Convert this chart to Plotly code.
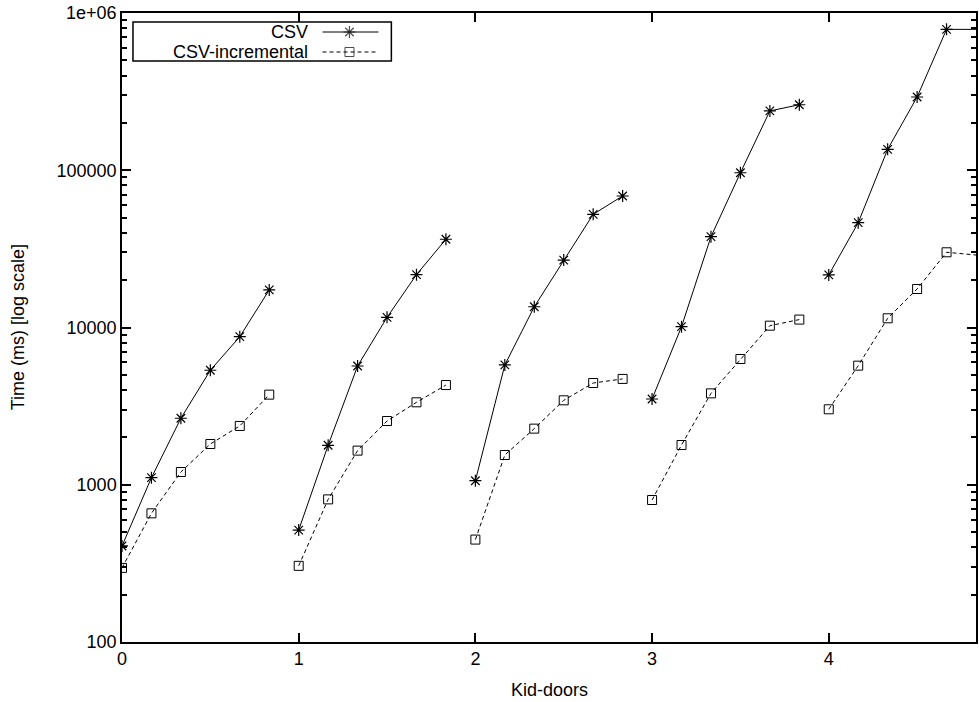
import plotly.graph_objects as go

# ---- data ----
kid_doors = [0, 1, 2, 3, 4]
sub_steps = [0, 1/6, 2/6, 3/6, 4/6, 5/6]
csv_ms = [
    [408, 1109, 2648, 5346, 8740, 17340],
    [515, 1782, 5690, 11600, 21680, 36400],
    [1061, 5780, 13550, 26850, 52450, 68600],
    [3510, 10120, 37800, 96400, 238300, 261000],
    [21600, 46400, 135900, 292300, 787000, 787000],
]
csv_incremental_ms = [
    [296, 658, 1205, 1816, 2366, 3741],
    [305, 807, 1648, 2543, 3344, 4305],
    [448, 1546, 2274, 3443, 4436, 4710],
    [800, 1790, 3812, 6305, 10270, 11230],
    [3018, 5720, 11440, 17570, 30080, 28900],
]
y_tickvals = [100, 1000, 10000, 100000, 1000000]
y_ticktext = ["100", "1000", "10000", "100000", "1e+06"]
y_minor_tickvals = [m * d for d in [100, 1000, 10000, 100000] for m in range(2, 10)]
series_names = ["CSV", "CSV-incremental"]
x_title = "Kid-doors"
y_title = "Time (ms) [log scale]"


def flatten(groups):
    xs, ys = [], []
    for k, vals in zip(kid_doors, groups):
        for s, v in zip(sub_steps, vals):
            xs.append(k + s)
            ys.append(v)
        xs.append(None)
        ys.append(None)
    return xs, ys


FONT = "Liberation Sans, Arial, Helvetica, sans-serif"
FS = 18
W, H = 979, 702
L, R, T, B = 122, 1, 13, 60
PW, PH = W - L - R, H - T - B
X_MAX = 4.8333
LOG_MIN, LOG_MAX = 2, 6


def paper_x(px):
    return (px - L) / PW


def paper_y(py):
    return 1 - (py - T) / PH


def data_x(px):
    return paper_x(px) * X_MAX


def data_y(py):
    return 10 ** (LOG_MIN + paper_y(py) * (LOG_MAX - LOG_MIN))


fig = go.Figure()

x1, y1 = flatten(csv_ms)
x2, y2 = flatten(csv_incremental_ms)

csv_style = dict(
    line=dict(color="black", width=1),
    marker_symbol="asterisk-open", marker_color="black",
    marker_line=dict(color="black", width=1.2),
)
inc_style = dict(
    line=dict(color="black", width=1, dash="4px,3px"),
    marker_symbol="square-open", marker_color="black",
    marker_line=dict(color="black", width=1),
)

fig.add_trace(go.Scatter(x=x1, y=y1, mode="lines+markers", name=series_names[0],
                         marker_size=10, connectgaps=False, showlegend=False,
                         **csv_style))
fig.add_trace(go.Scatter(x=x2, y=y2, mode="lines+markers", name=series_names[1],
                         marker_size=9, connectgaps=False, showlegend=False,
                         **inc_style))

# ---- gnuplot-style key: text right-aligned, sample to its right ----
key_rows = [32, 52]
key_text_right = 310
key_sample = (323, 350, 379)
key_box = (133, 392, 22, 61)
for name, yrow, st, msz in zip(series_names, key_rows, [csv_style, inc_style], [10, 9]):
    fig.add_trace(go.Scatter(
        x=[data_x(p) for p in key_sample], y=[data_y(yrow)] * 3,
        mode="lines+markers", marker_size=[0, msz, 0],
        showlegend=False, hoverinfo="skip", cliponaxis=False, **st,
    ))
    fig.add_annotation(
        x=paper_x(key_text_right), y=paper_y(yrow), xref="paper", yref="paper",
        text=name, showarrow=False, xanchor="right", yanchor="middle",
        font=dict(family=FONT, size=FS, color="black"),
    )
fig.add_shape(type="rect", xref="paper", yref="paper",
              x0=paper_x(key_box[0]), x1=paper_x(key_box[1]),
              y0=paper_y(key_box[2]), y1=paper_y(key_box[3]),
              line=dict(color="black", width=1.5), fillcolor="rgba(0,0,0,0)")

# axis titles as annotations
fig.add_annotation(x=0.5, y=paper_y(690), xref="paper", yref="paper", text=x_title,
                   showarrow=False, xanchor="center", yanchor="middle",
                   font=dict(family=FONT, size=FS, color="black"))
fig.add_annotation(x=paper_x(18), y=paper_y(327), xref="paper", yref="paper", text=y_title,
                   showarrow=False, xanchor="center", yanchor="middle", textangle=-90,
                   font=dict(family=FONT, size=FS, color="black"))

fig.update_layout(
    width=W, height=H,
    margin=dict(l=L, r=R, t=T, b=B),
    paper_bgcolor="white", plot_bgcolor="white",
    font=dict(family=FONT, size=FS, color="black"),
    showlegend=False,
    xaxis=dict(
        range=[0, X_MAX], tickvals=kid_doors, ticktext=[str(k) for k in kid_doors],
        ticks="inside", ticklen=9, tickcolor="black", tickwidth=1.5,
        showline=True, linecolor="black", linewidth=1.5, mirror="ticks",
        showgrid=False, zeroline=False,
        tickfont=dict(size=FS, color="black"),
    ),
    yaxis=dict(
        type="log", range=[LOG_MIN, LOG_MAX], tickvals=y_tickvals, ticktext=y_ticktext,
        ticksuffix="\u00a0\u00a0",
        ticks="inside", ticklen=9, tickcolor="black", tickwidth=1.5,
        minor=dict(tickmode="array", tickvals=y_minor_tickvals, ticks="inside",
                   ticklen=5, tickcolor="black", tickwidth=1.5, showgrid=False),
        showline=True, linecolor="black", linewidth=1.5, mirror="ticks",
        showgrid=False, zeroline=False,
        tickfont=dict(size=FS, color="black"),
    ),
)

fig.write_html("out.html",
               config={"displayModeBar": False},
               post_script="document.body.style.margin='0';document.body.style.padding='0';")
